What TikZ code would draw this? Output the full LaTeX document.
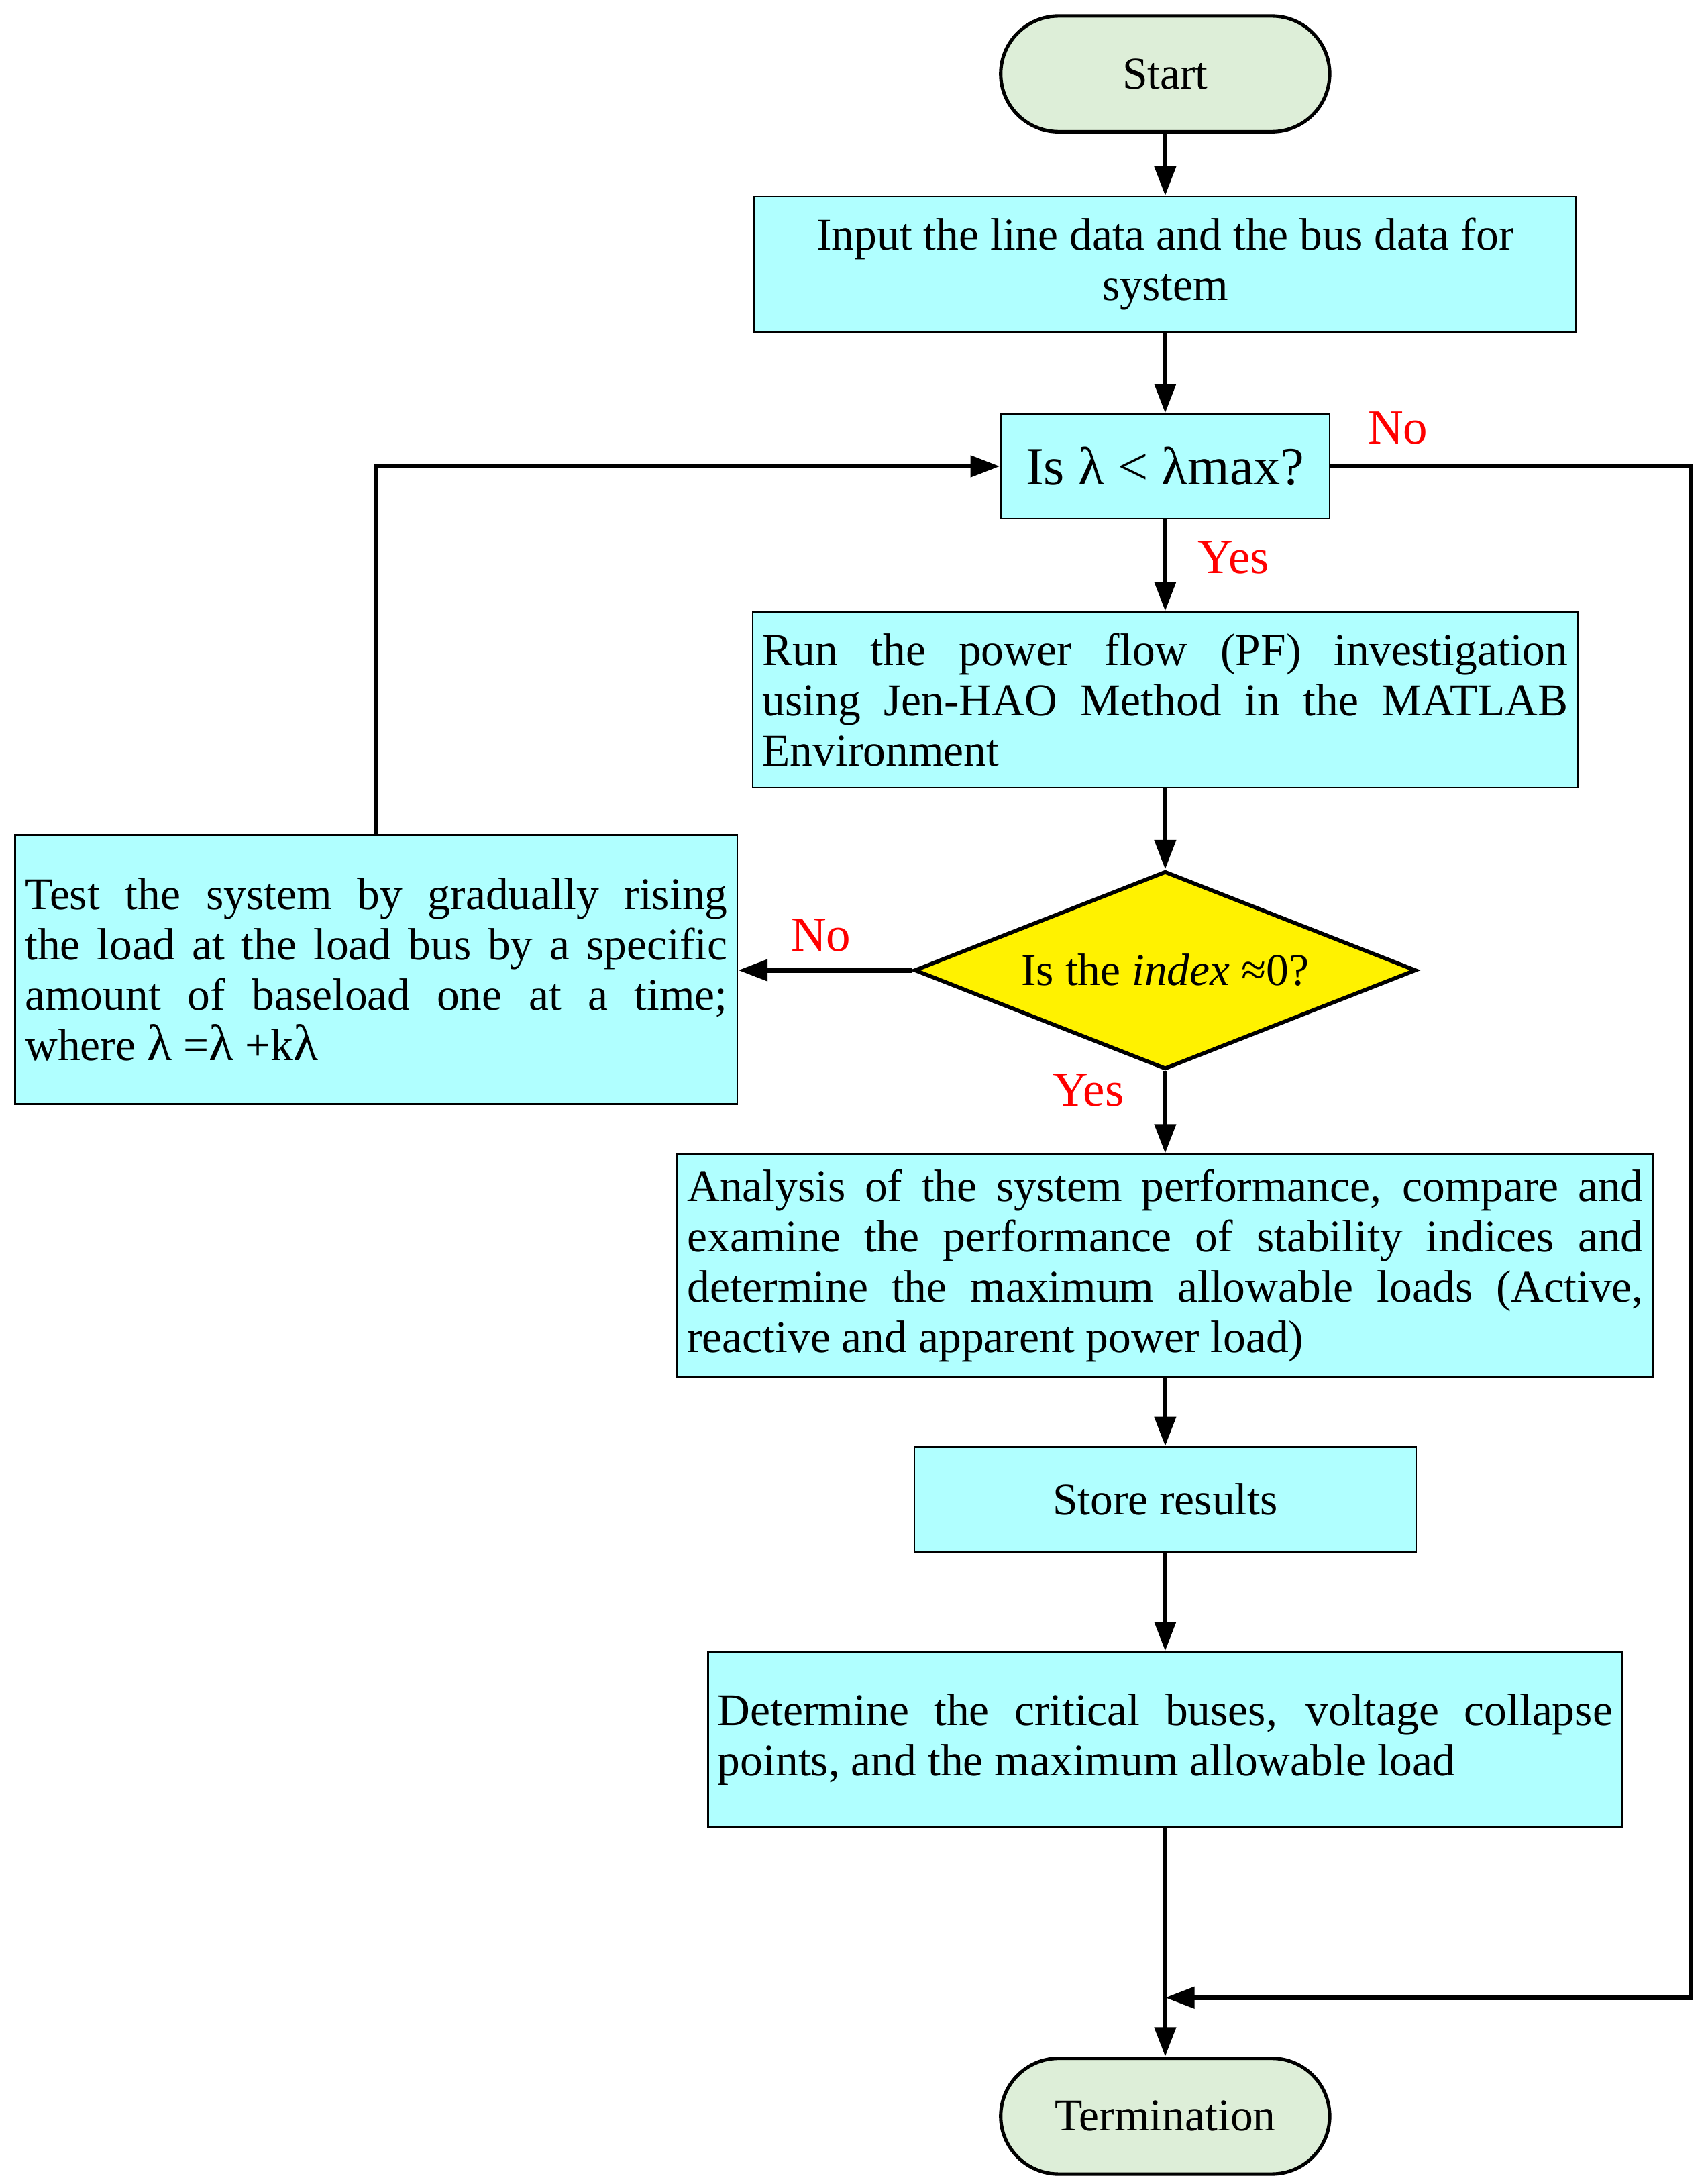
\documentclass[tikz,border=0pt]{standalone}
\usepackage{fontspec}
\setmainfont{Liberation Serif}
\usetikzlibrary{arrows.meta,shapes.geometric}
\definecolor{boxcyan}{RGB}{176,255,255}
\definecolor{termgreen}{RGB}{221,238,216}
\begin{document}
\begin{tikzpicture}[
    every node/.style={font=\fontsize{18.5}{20.5}\selectfont},
    procbox/.style={draw, line width=0.75pt, fill=boxcyan, inner xsep=0.14cm, inner ysep=0pt, align=justify},
    termbox/.style={draw, line width=1.4pt, fill=termgreen, rounded corners=0.83cm, minimum width=4.72cm, minimum height=1.66cm},
    decide/.style={diamond, draw, line width=1.6pt, fill=yellow, aspect=2.535, minimum width=7.2cm, minimum height=2.84cm, inner sep=0pt},
    flow/.style={line width=1.9pt, -{Triangle[length=0.42cm,width=0.3cm]}},
    answer/.style={text=red, font=\fontsize{20}{24}\selectfont}
]
            \useasboundingbox (0,0) rectangle (24.5,-31.334);
            \node[termbox] (start) at (16.72,-1.06) {Start};
            \node[procbox, align=center, minimum width=11.8cm, minimum height=1.94cm] (input) at (16.72,-3.79) {Input the line data and the bus data for\\system};
            \node[procbox, align=center, minimum width=4.72cm, minimum height=1.5cm, font=\fontsize{22}{24}\selectfont] (check) at (16.72,-6.69) {Is λ < λmax?};
            \node[procbox, text width=11.56cm, minimum height=2.52cm] (run) at (16.72,-10.04) {Run the power flow (PF) investigation\linebreak using Jen-HAO Method in the MATLAB\linebreak Environment};
            \node[decide] (index) at (16.72,-13.92) {Is the \textit{index} ≈0?};
            \node[procbox, text width=10.08cm, minimum height=3.86cm] (test) at (5.4,-13.91) {Test the system by gradually rising\linebreak the load at the load bus by a specific\linebreak amount of baseload one at a time;\linebreak where {\fontsize{21}{20.5}\selectfont λ} ={\fontsize{21}{20.5}\selectfont λ} +k{\fontsize{21}{20.5}\selectfont λ}};
            \node[procbox, text width=13.72cm, minimum height=3.2cm] (analysis) at (16.72,-18.16) {Analysis of the system performance, compare and\linebreak examine the performance of stability indices and\linebreak determine the maximum allowable loads (Active,\linebreak reactive and apparent power load)};
            \node[procbox, align=center, minimum width=7.2cm, minimum height=1.5cm] (store) at (16.72,-21.51) {Store results};
            \node[procbox, text width=12.84cm, minimum height=2.52cm] (determine) at (16.72,-24.96) {Determine the critical buses, voltage collapse\linebreak points, and the maximum allowable load};
            \node[termbox] (term) at (16.72,-30.36) {Termination};
            \coordinate (rtop) at (24.26,-6.69);
            \coordinate (rbot) at (24.26,-28.66);
            \coordinate (merge) at (16.72,-28.66);
            \coordinate (ltop) at (5.4,-6.69);
            \draw[flow] (start) -- (input);
            \draw[flow] (input) -- (check);
            \draw[flow] (check) -- (run);
            \draw[flow] (run) -- (index);
            \draw[flow] (index.west) -- (index.west -| test.east);
            \draw[flow] (test.north) -- (ltop) -- (check.west);
            \draw[flow] (index.south) -- (analysis.north);
            \draw[flow] (analysis) -- (store);
            \draw[flow] (store) -- (determine);
            \draw[flow] (determine) -- (term);
            \draw[flow] (check.east) -- (rtop) -- (rbot) -- (merge);
            \node[answer] (nocheck) at (20.06,-6.14) {No};
            \node[answer] (yescheck) at (17.7,-8.0) {Yes};
            \node[answer] (noindex) at (11.78,-13.42) {No};
            \node[answer] (yesindex) at (15.62,-15.64) {Yes};
        \end{tikzpicture}
\end{document}
